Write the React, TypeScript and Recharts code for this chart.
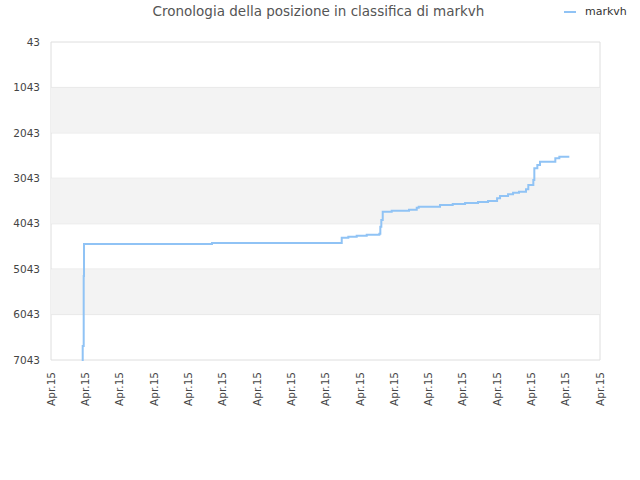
import React from 'react';
import { LineChart, Line, XAxis, YAxis, CartesianGrid, ReferenceArea } from 'recharts';

// x position in tick units (0 = first "Apr.15" tick, 16 = last)
const timeIndex = [
  0.895, 0.924, 0.953, 0.962, 4.692, 8.473, 8.665, 8.909, 9.201, 9.569, 9.598, 9.627,
  9.668, 9.93, 10.434, 10.659, 10.717, 11.338, 11.708, 12.067, 12.445, 12.737, 13.0,
  13.087, 13.32, 13.466, 13.64, 13.844, 13.911, 14.057, 14.086, 14.174, 14.252, 14.698,
  14.815, 15.106,
];
const positions = [
  7043, 6734, 5193, 4489, 4467, 4350, 4328, 4306, 4284, 4262, 4108, 3961,
  3778, 3756, 3734, 3690, 3668, 3631, 3609, 3587, 3565, 3543, 3483,
  3433, 3395, 3360, 3338, 3285, 3190, 3080, 2823, 2750, 2678, 2603,
  2568, 2568,
];
const yTicks = [43, 1043, 2043, 3043, 4043, 5043, 6043, 7043];
const xTicks = [0, 1, 2, 3, 4, 5, 6, 7, 8, 9, 10, 11, 12, 13, 14, 15, 16];
const xTickLabels = [
  'Apr.15', 'Apr.15', 'Apr.15', 'Apr.15', 'Apr.15', 'Apr.15', 'Apr.15', 'Apr.15', 'Apr.15',
  'Apr.15', 'Apr.15', 'Apr.15', 'Apr.15', 'Apr.15', 'Apr.15', 'Apr.15', 'Apr.15',
];
// shaded bands between these rank pairs
const bands: [number, number][] = [
  [1043, 2043],
  [3043, 4043],
  [5043, 6043],
];

const data = timeIndex.map((t, i) => ({ t, rank: positions[i] }));

const FONT = '"DejaVu Sans", sans-serif';
const LINE_COLOR = '#90c3f5';

const XTick = (props: any) => {
  const { x, y, payload, index } = props;
  return (
    <g transform={`translate(${x},${y})`}>
      <text
        transform="rotate(-90)"
        x={-4}
        y={0}
        dy="0.35em"
        textAnchor="end"
        fontSize={10.5}
        fontFamily={FONT}
        fill="#444"
      >
        {xTickLabels[index] ?? payload.value}
      </text>
    </g>
  );
};

export default function App() {
  return (
    <div style={{ position: 'absolute', left: 0, top: 0, width: 640, height: 480, background: '#fff' }}>
      <div
        style={{
          position: 'absolute',
          left: 0,
          width: 637,
          top: 3,
          textAlign: 'center',
          fontFamily: FONT,
          fontSize: 13.5,
          color: '#555',
        }}
      >
        Cronologia della posizione in classifica di markvh
      </div>
      <div
        style={{
          position: 'absolute',
          left: 564,
          top: 5,
          display: 'flex',
          alignItems: 'center',
          fontFamily: FONT,
          fontSize: 11,
          color: '#333',
        }}
      >
        <span style={{ display: 'inline-block', width: 12, height: 2, background: LINE_COLOR, marginRight: 9 }} />
        markvh
      </div>
      <LineChart
        width={640}
        height={480}
        data={data}
        margin={{ top: 42, right: 40, bottom: 60, left: 0 }}
      >
        {bands.map(([a, b]) => (
          <ReferenceArea key={a} y1={a} y2={b} fill="#f3f3f3" fillOpacity={1} stroke="none" />
        ))}
        <CartesianGrid
          stroke="#dedede"
          fill="none"
          verticalCoordinatesGenerator={({ offset }: any) => [offset.left, offset.left + offset.width]}
        />
        <XAxis
          type="number"
          dataKey="t"
          domain={[0, 16]}
          ticks={xTicks}
          interval={0}
          axisLine={false}
          tickLine={false}
          height={60}
          tick={<XTick />}
        />
        <YAxis
          type="number"
          dataKey="rank"
          domain={[43, 7043]}
          ticks={yTicks}
          reversed
          interval={0}
          width={51}
          axisLine={false}
          tickLine={false}
          tickSize={0}
          tickMargin={11}
          tick={{ fontSize: 10.5, fontFamily: FONT, fill: '#444' }}
        />
        <Line
          type="stepAfter"
          dataKey="rank"
          stroke={LINE_COLOR}
          strokeWidth={2}
          dot={false}
          isAnimationActive={false}
        />
      </LineChart>
    </div>
  );
}
